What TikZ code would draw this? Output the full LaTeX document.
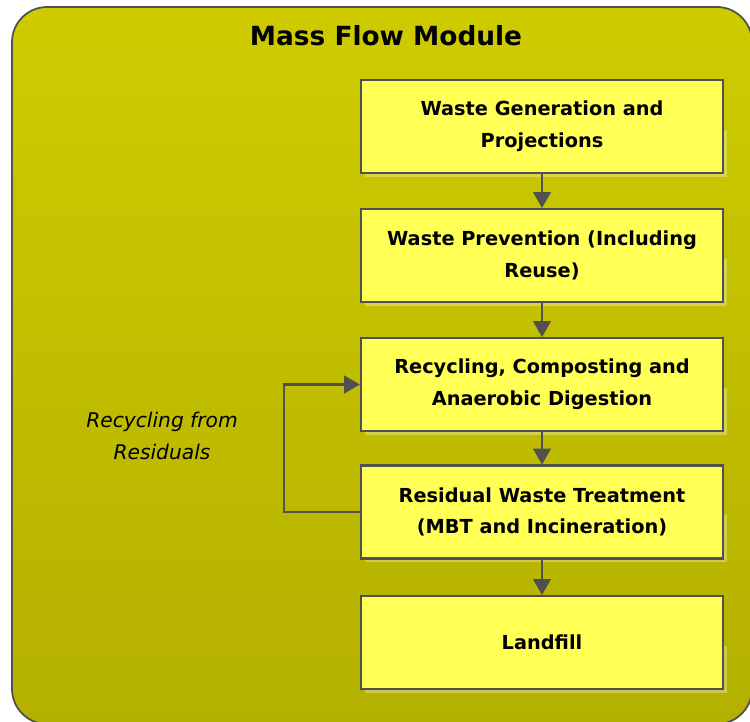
\documentclass[tikz,border=0pt]{standalone}
\usepackage{fontspec}
\setmainfont{DejaVu Sans}
\usetikzlibrary{arrows.meta}
\definecolor{oliveTop}{RGB}{206,204,0}
\definecolor{oliveBot}{RGB}{180,176,0}
\definecolor{stepFill}{RGB}{255,255,85}
\definecolor{edgeGray}{RGB}{80,80,80}

\begin{document}
\begin{tikzpicture}[x=0.02cm, y=-0.02cm,
    stepbox/.style={rectangle, draw=edgeGray, line width=1.2pt, fill=stepFill, minimum width=7.24cm, minimum height=1.86cm, align=center, inner sep=2pt, font=\bfseries\fontsize{11}{18}\selectfont},
    flow/.style={draw=edgeGray, line width=1.2pt, -{Triangle[length=9pt, width=10pt]}}]
      \useasboundingbox (0,0) rectangle (750,721);
      % module background
      \shade[top color=oliveTop, bottom color=oliveBot, rounded corners=20pt] (12,7) rectangle (752,724);
      \draw[edgeGray, line width=1pt, rounded corners=20pt] (12,7) rectangle (752,724);
      \node[font=\bfseries\fontsize{15}{17}\selectfont] (title) at (386,36) {Mass Flow Module};

      % shadows
      \foreach \yy in {126.5,255.5,384.5,512,642.5}
        \fill[white, opacity=0.3] (365,\yy+3) rectangle (727,\yy+50);

      \node[stepbox] (gen) at (542,126.5) {Waste Generation and\\Projections};
      \node[stepbox] (prev) at (542,255.5) {Waste Prevention (Including\\Reuse)};
      \node[stepbox] (recy) at (542,384.5) {Recycling, Composting and\\Anaerobic Digestion};
      \node[stepbox] (resid) at (542,512) {Residual Waste Treatment\\(MBT and Incineration)};
      \node[stepbox] (land) at (542,642.5) {Landfill};

      \draw[flow] (gen) -- (prev);
      \draw[flow] (prev) -- (recy);
      \draw[flow] (recy) -- (resid);
      \draw[flow] (resid) -- (land);
      \draw[flow] (resid.west) -- (284,512) |- (recy.west);

      \node[font=\itshape\fontsize{11.5}{18}\selectfont, align=center] (loop) at (162,436) {Recycling from\\Residuals};
\end{tikzpicture}
\end{document}
